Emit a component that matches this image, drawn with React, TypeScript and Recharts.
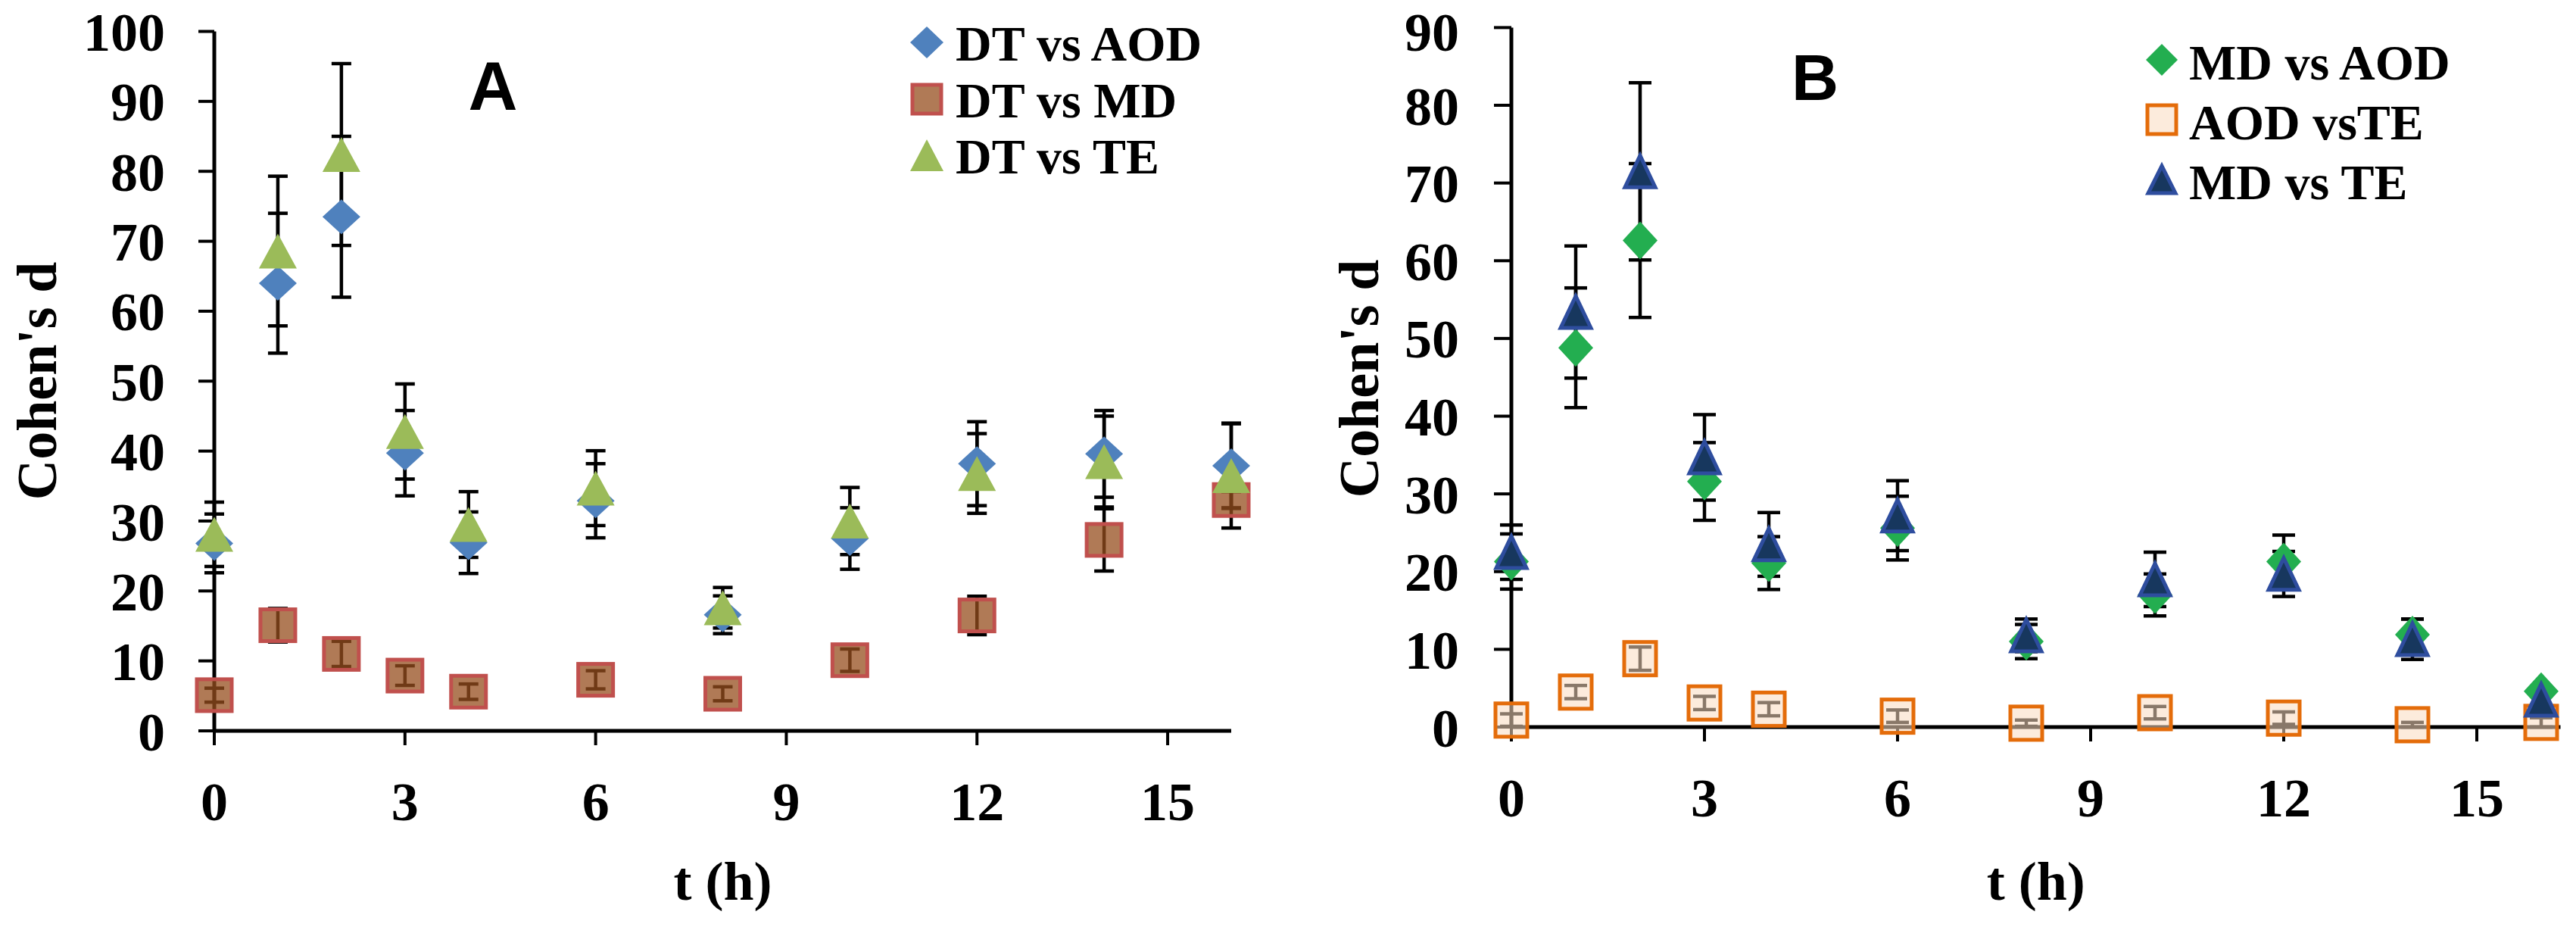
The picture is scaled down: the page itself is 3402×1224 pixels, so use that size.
import React from 'react';
import { ScatterChart, Scatter, XAxis, YAxis, ErrorBar } from 'recharts';

// ---------- data ----------
const times = [0, 1, 2, 3, 4, 6, 8, 10, 12, 14, 16];
const xTicks = [0, 3, 6, 9, 12, 15];
const yTicksA = [0, 10, 20, 30, 40, 50, 60, 70, 80, 90, 100];
const yTicksB = [0, 10, 20, 30, 40, 50, 60, 70, 80, 90];

// Panel A
const dtVsAod = [26.8, 64.0, 73.5, 39.7, 26.9, 32.9, 16.6, 27.5, 38.2, 39.6, 37.9];
const dtVsAodErr = [4.2, 10.0, 11.5, 6.1, 4.4, 5.3, 2.7, 4.4, 6.0, 6.2, 6.0];
const dtVsMd = [5.1, 15.1, 11.0, 7.9, 5.6, 7.3, 5.3, 10.1, 16.5, 27.3, 33.0];
const dtVsMdErr = [1.0, 2.4, 1.8, 1.4, 1.1, 1.3, 1.0, 1.6, 2.75, 4.45, 1.2];
const dtVsTe = [28.1, 68.6, 82.4, 42.8, 29.5, 34.7, 17.6, 30.0, 36.8, 38.5, 36.5];
const dtVsTeErr = [4.6, 10.7, 13.0, 6.8, 4.7, 5.35, 2.9, 4.8, 5.7, 6.5, 7.5];

// Panel B
const mdVsAod = [21.3, 48.8, 62.6, 31.6, 21.1, 25.6, 11.0, 17.0, 21.3, 11.9, 4.6];
const mdVsAodErr = [3.55, 7.7, 9.9, 5.0, 3.4, 4.1, 2.2, 2.7, 3.4, 2.0, 0.6];
const aodVsTe = [0.9, 4.5, 8.8, 3.1, 2.3, 1.4, 0.5, 1.85, 1.15, 0.3, 0.6];
const aodVsTeErr = [0.8, 0.85, 1.5, 0.85, 0.85, 0.8, 0.4, 0.8, 0.8, 0.3, 0.6];
const mdVsTe = [22.5, 53.4, 71.5, 34.7, 23.5, 27.2, 11.8, 19.0, 19.7, 11.3, 3.5];
const mdVsTeErr = [3.5, 8.5, 11.4, 5.5, 4.1, 4.5, 2.1, 3.5, 2.9, 2.6, 0.8];

const legendA = ['DT vs AOD', 'DT vs MD', 'DT vs TE'];
const legendB = ['MD vs AOD', 'AOD vsTE', 'MD vs TE'];

const rows = (vals: number[], errs: number[]) =>
  times.map((t, i) => ({ t, v: vals[i], e: errs[i] }));

// ---------- styles ----------
const SERIF = "'Liberation Serif', 'Times New Roman', serif";
const SANS = "'Liberation Sans', Arial, sans-serif";

type ShapeProps = { cx?: number; cy?: number };

const diamond = (fill: string, hw: number, hh: number) => (p: ShapeProps) => {
  const cx = p.cx ?? 0;
  const cy = p.cy ?? 0;
  return (
    <polygon
      points={`${cx},${cy - hh} ${cx + hw},${cy} ${cx},${cy + hh} ${cx - hw},${cy}`}
      fill={fill}
    />
  );
};

const square = (fill: string, opacity: number, stroke: string, hw: number, hh: number) => (p: ShapeProps) => {
  const cx = p.cx ?? 0;
  const cy = p.cy ?? 0;
  return (
    <rect
      x={cx - hw}
      y={cy - hh}
      width={hw * 2}
      height={hh * 2}
      fill={fill}
      fillOpacity={opacity}
      stroke={stroke}
      strokeWidth={5}
    />
  );
};

const triangle = (fill: string, stroke: string | null, hw: number, hh: number) => (p: ShapeProps) => {
  const cx = p.cx ?? 0;
  const cy = p.cy ?? 0;
  return (
    <polygon
      points={`${cx},${cy - hh} ${cx + hw},${cy + hh} ${cx - hw},${cy + hh}`}
      fill={fill}
      stroke={stroke ?? 'none'}
      strokeWidth={stroke ? 5 : 0}
      strokeLinejoin="miter"
    />
  );
};

const noShape = () => <g />;

const MD_FILL = 'rgb(150,78,30)';
const TE_FILL = 'rgb(250,218,192)';

const shapesA = [
  diamond('#4F81BD', 25, 23),
  square(MD_FILL, 0.75, '#C0504D', 23, 21),
  triangle('#9BBB59', null, 25, 23),
];
const shapesB = [
  diamond('#23AE50', 23, 25),
  square(TE_FILL, 0.55, '#E46C0A', 21, 22),
  triangle('#17375E', '#2E4D9E', 20, 21),
];

const tickStyle = { fontFamily: SERIF, fontWeight: 700, fontSize: 72, fill: '#000' };

type PanelProps = {
  series: { name: string; data: { t: number; v: number; e: number }[] }[];
  shapes: ((p: ShapeProps) => React.ReactElement)[];
  yTicks: number[];
  yMax: number;
  xMax: number;
  width: number;
  margin: { top: number; right: number; bottom: number; left: number };
  yAxisWidth: number;
  yTickSize: number;
  yTickMargin: number;
  capWidth: number;
  yTitleX: number;
  yTitleY: number;
};

function Panel(props: PanelProps) {
  const { series, shapes, yTicks, yMax, xMax, width, margin, yAxisWidth, yTickSize, yTickMargin, capWidth, yTitleX, yTitleY } = props;
  return (
    <ScatterChart width={width} height={1224} margin={margin}>
      <XAxis
        type="number"
        dataKey="t"
        domain={[0, xMax]}
        ticks={xTicks}
        height={200}
        tickSize={19}
        tickMargin={48}
        tick={tickStyle}
        axisLine={{ stroke: '#000', strokeWidth: 5 }}
        tickLine={{ stroke: '#000', strokeWidth: 4 }}
        label={{
          content: (lp: any) => {
            const vb = lp.viewBox || {};
            return (
              <text
                x={(vb.x ?? 0) + (vb.width ?? 0) / 2}
                y={1188}
                textAnchor="middle"
                style={{ fontFamily: SERIF, fontWeight: 700, fontSize: 72 }}
                fill="#000"
              >
                t (h)
              </text>
            );
          },
        }}
      />
      <YAxis
        type="number"
        dataKey="v"
        domain={[0, yMax]}
        ticks={yTicks}
        width={yAxisWidth}
        tickSize={yTickSize}
        tickMargin={yTickMargin}
        tick={tickStyle}
        axisLine={{ stroke: '#000', strokeWidth: 5 }}
        tickLine={{ stroke: '#000', strokeWidth: 4 }}
        label={{
          content: () => (
            <text
              x={yTitleX}
              y={yTitleY}
              transform={`rotate(-90 ${yTitleX} ${yTitleY})`}
              textAnchor="middle"
              dominantBaseline="central"
              style={{ fontFamily: SERIF, fontWeight: 700, fontSize: 74 }}
              fill="#000"
            >
              Cohen's d
            </text>
          ),
        }}
      />
      {series.map((s) => (
        <Scatter
          key={`err-${s.name}`}
          name={`${s.name} error`}
          data={s.data}
          shape={noShape}
          isAnimationActive={false}
          legendType="none"
        >
          <ErrorBar
            dataKey="e"
            direction="y"
            width={capWidth}
            stroke="#000"
            strokeWidth={4.5}
            isAnimationActive={false}
          />
        </Scatter>
      ))}
      {series.map((s, i) => (
        <Scatter
          key={`pts-${s.name}`}
          name={s.name}
          data={s.data}
          shape={shapes[i] as any}
          isAnimationActive={false}
        />
      ))}
    </ScatterChart>
  );
}

function LegendOverlay() {
  const rowsA = [56, 131, 205];
  const rowsB = [79, 158, 237];
  const textStyle = { fontFamily: SERIF, fontWeight: 700, fontSize: 66 } as const;
  const legShapesA = [
    diamond('#4F81BD', 22, 21),
    square(MD_FILL, 0.75, '#C0504D', 19, 19),
    triangle('#9BBB59', null, 22, 21),
  ];
  const legShapesB = [
    diamond('#23AE50', 21, 21),
    square(TE_FILL, 0.55, '#E46C0A', 19, 19),
    triangle('#17375E', '#2E4D9E', 18, 18),
  ];
  return (
    <svg
      width={3402}
      height={1224}
      style={{ position: 'absolute', left: 0, top: 0, pointerEvents: 'none' }}
    >
      <text x={651} y={145} textAnchor="middle" style={{ fontFamily: SANS, fontWeight: 700, fontSize: 90 }} fill="#000">
        A
      </text>
      <text x={2397} y={132} textAnchor="middle" style={{ fontFamily: SANS, fontWeight: 700, fontSize: 86 }} fill="#000">
        B
      </text>
      {legendA.map((name, i) => (
        <g key={name}>
          {legShapesA[i]({ cx: 1224, cy: rowsA[i] })}
          <text x={1262} y={rowsA[i] + 24} style={textStyle} fill="#000">
            {name}
          </text>
        </g>
      ))}
      {legendB.map((name, i) => (
        <g key={name}>
          {legShapesB[i]({ cx: 2855, cy: rowsB[i] })}
          <text x={2891} y={rowsB[i] + 26} style={textStyle} fill="#000">
            {name}
          </text>
        </g>
      ))}
    </svg>
  );
}

export default function App() {
  const seriesA = [
    { name: legendA[0], data: rows(dtVsAod, dtVsAodErr) },
    { name: legendA[1], data: rows(dtVsMd, dtVsMdErr) },
    { name: legendA[2], data: rows(dtVsTe, dtVsTeErr) },
  ];
  const seriesB = [
    { name: legendB[0], data: rows(mdVsAod, mdVsAodErr) },
    { name: legendB[1], data: rows(aodVsTe, aodVsTeErr) },
    { name: legendB[2], data: rows(mdVsTe, mdVsTeErr) },
  ];
  return (
    <div style={{ position: 'absolute', left: 0, top: 0, width: 3402, height: 1224, background: '#fff', overflow: 'hidden' }}>
      <div style={{ position: 'absolute', left: 0, top: 0 }}>
        <Panel
          series={seriesA}
          shapes={shapesA}
          yTicks={yTicksA}
          yMax={100}
          xMax={16}
          width={1700}
          margin={{ top: 41.5, right: 74, bottom: 59, left: 0 }}
          yAxisWidth={283}
          yTickSize={21}
          yTickMargin={44}
          capWidth={13}
          yTitleX={49}
          yTitleY={503}
        />
      </div>
      <div style={{ position: 'absolute', left: 1700, top: 0 }}>
        <Panel
          series={seriesB}
          shapes={shapesB}
          yTicks={yTicksB}
          yMax={90}
          xMax={16.3}
          width={1702}
          margin={{ top: 36.4, right: 20.5, bottom: 64, left: 0 }}
          yAxisWidth={296}
          yTickSize={23}
          yTickMargin={46}
          capWidth={15}
          yTitleX={95}
          yTitleY={500}
        />
      </div>
      <LegendOverlay />
    </div>
  );
}
